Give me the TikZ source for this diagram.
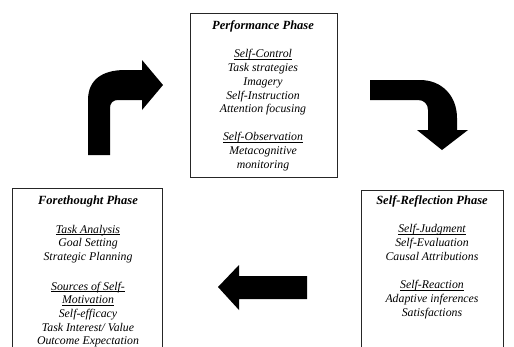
\documentclass[tikz,border=0pt]{standalone}
\usepackage{fontspec}
\setmainfont{Liberation Serif}
\newcommand{\uln}[1]{\underline{\smash{#1}}}
\newcommand{\phtitle}[1]{{\fontsize{12.5}{13.9}\selectfont\bfseries #1}}
\begin{document}
\begin{tikzpicture}[x=1pt,y=-1pt,
  frame/.style={draw=black!85, line width=0.9pt, inner sep=0pt, anchor=north west},
  phasetext/.style={anchor=north, align=center, inner sep=0pt,
    font=\fontsize{11.8}{13.9}\selectfont\itshape},
  blockarrow/.style={fill=black, draw=none}]
\useasboundingbox (0,0) rectangle (514,346);
\clip (0,0) rectangle (514,346);
\fill[white] (0,0) rectangle (514,346);

% boxes
\node[frame, minimum width=147pt, minimum height=164pt] (perfbox) at (190,13) {};
\node[frame, minimum width=150pt, minimum height=180pt] (forebox) at (12,188) {};
\node[frame, minimum width=142pt, minimum height=180pt] (reflbox) at (361,190) {};

% texts
\node[phasetext] (perftext) at (263,20.5) {\phtitle{Performance Phase}\\[13.9pt]
  \uln{Self-Control}\\ Task strategies\\ Imagery\\ Self-Instruction\\ Attention focusing\\[13.9pt]
  \uln{Self-Observation}\\ Metacognitive\\ monitoring};
\node[phasetext, font=\fontsize{11.8}{13.7}\selectfont\itshape] (foretext) at (88,195.5) {\phtitle{Forethought Phase}\\[15pt]
  \uln{Task Analysis}\\ Goal Setting\\ Strategic Planning\\[16pt]
  \uln{Sources of Self-}\\ \uln{Motivation}\\ Self-efficacy\\ Task Interest/ Value\\ Outcome Expectation};
\node[phasetext, font=\fontsize{11.8}{13.7}\selectfont\itshape] (refltext) at (432,195.5) {\phtitle{Self-Reflection Phase}\\[14.5pt]
  \uln{Self-Judgment}\\ Self-Evaluation\\ Causal Attributions\\[15pt]
  \uln{Self-Reaction}\\ Adaptive inferences\\ Satisfactions};

% curved arrow up-right (forethought -> performance)
\fill[blockarrow] (88,155) -- (88,100) .. controls (88,80) and (102,70) .. (125,70)
  -- (142,70) -- (142,60) -- (163,85) -- (142,110) -- (142,100) -- (118,100)
  .. controls (113,100) and (110,103) .. (110,108) -- (110,155) -- cycle;

% curved arrow right-down (performance -> self-reflection)
\fill[blockarrow] (370,80) -- (420,80) .. controls (442,80) and (457,96) .. (457,118)
  -- (457,130) -- (468,130) -- (442,150) -- (417,130) -- (428,130) -- (428,110)
  .. controls (428,104) and (424,100) .. (418,100) -- (370,100) -- cycle;

% straight arrow left (self-reflection -> forethought)
\fill[blockarrow] (307,276) -- (239,276) -- (239,265) -- (218,287) -- (239,310)
  -- (239,299) -- (307,299) -- cycle;
\end{tikzpicture}
\end{document}
